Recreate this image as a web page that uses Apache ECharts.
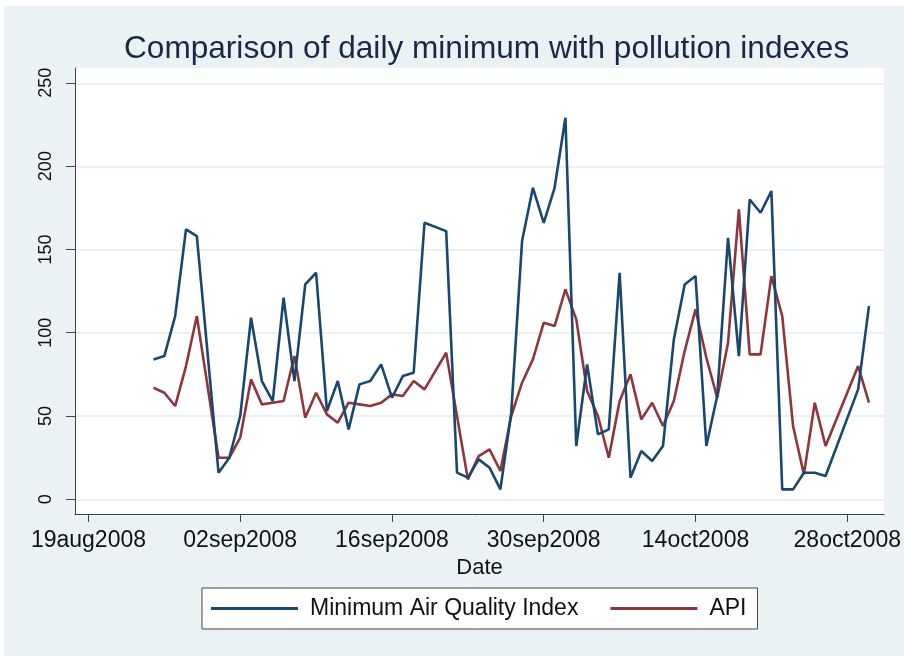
<!DOCTYPE html>
<html>
<head>
<meta charset="utf-8">
<script src="https://cdn.jsdelivr.net/npm/echarts@6/dist/echarts.min.js"></script>
<style>
  body { margin: 0; background: #fff; }
  #chart {
    width: 904px;
    height: 656px;
    background: #eaf2f3;
    box-shadow: inset 4px 6px 0 #fff;
  }
</style>
</head>
<body>
<div id="chart"></div>
<script>
// daily readings, first day 25aug2008 (null = no reading that day)
const startDay = [2008, 7, 25];
const minAQI = [84, 86, 110, 162, 158, null, 16, 25, 50, 109, 71, 59, 121, 71, 129, 136, 53, 71,
  42, 69, 71, 81, 61, 74, 76, 166, null, 161, 16, 13, 24, 19, 6, 52, 155, 187, 166, 187, 229,
  32, 81, 39, 42, 136, 13, 29, 23, 32, 96, 129, 134, 32, 62, 157, 86, 180, 172, 185, 6, 6,
  16, 16, 14, null, null, 66, 116];
const api = [67, 64, 56, 80, 110, null, 25, 25, 37, 72, 57, 58, 59, 86, 49, 64, 51, 46,
  58, 57, 56, 58, 63, 62, 71, 66, null, 88, null, 12, 26, 30, 17, 50, 70, 84, 106, 104, 126,
  108, 65, 50, 25, 59, 75, 48, 58, 44, 59, 89, 114, 85, 61, 94, 174, 87, 87, 134, 110, 44,
  15, 58, 32, null, null, 80, 58];
const seriesNames = ['Minimum Air Quality Index', 'API'];
const xTickDates = ['2008-08-19', '2008-09-02', '2008-09-16', '2008-09-30', '2008-10-14', '2008-10-28'];
const yTicks = [0, 50, 100, 150, 200, 250];

const DAY = 86400000;
const months = ['jan', 'feb', 'mar', 'apr', 'may', 'jun', 'jul', 'aug', 'sep', 'oct', 'nov', 'dec'];
const t0 = Date.UTC(startDay[0], startDay[1], startDay[2]);
const dayTs = minAQI.map((v, i) => t0 + i * DAY);
const xTicks = xTickDates.map(d => Date.parse(d + 'T00:00:00Z'));

function stataDate(ts) {
  const d = new Date(ts);
  const dd = String(d.getUTCDate()).padStart(2, '0');
  return dd + months[d.getUTCMonth()] + d.getUTCFullYear();
}

const xMin = xTicks[0] - 1.24 * DAY;
const xMax = xTicks[0] + 73.4 * DAY;

const chart = echarts.init(document.getElementById('chart'));
chart.setOption({
  animation: false,
  textStyle: { fontFamily: 'Liberation Sans, Arial, sans-serif' },
  title: {
    text: 'Comparison of daily minimum with pollution indexes',
    left: 119,
    top: 28,
    textStyle: { fontSize: 31.6, fontWeight: 'normal', color: '#1a2848' }
  },
  legend: {
    data: seriesNames,
    left: 202,
    top: 588,
    icon: 'rect',
    itemWidth: 87,
    itemHeight: 3,
    itemGap: 32,
    padding: [9, 11, 9, 9],
    backgroundColor: '#fff',
    borderColor: '#444',
    borderWidth: 1,
    borderRadius: 0,
    textStyle: { fontSize: 23, color: '#111', padding: [0, 0, 0, 7] }
  },
  grid: [
    { left: 75, right: 19, top: 68, bottom: 142, show: true, backgroundColor: '#fff', borderWidth: 0 },
    { left: 75, right: 19, top: 83.3, bottom: 156.7 }
  ],
  xAxis: [
    {
      type: 'value',
      gridIndex: 0,
      min: xMin,
      max: xMax,
      name: 'Date',
      nameLocation: 'middle',
      nameGap: 39,
      nameTextStyle: { fontSize: 22, color: '#111' },
      axisLine: { show: true, onZero: false, lineStyle: { color: '#444', width: 1 } },
      axisTick: { show: true, length: 8, customValues: xTicks, lineStyle: { color: '#444' } },
      axisLabel: { customValues: xTicks, formatter: stataDate, fontSize: 23, color: '#111', margin: 15 },
      splitLine: { show: false }
    },
    { type: 'value', gridIndex: 1, min: xMin, max: xMax, show: false }
  ],
  yAxis: [
    {
      type: 'value',
      gridIndex: 0,
      min: -8.8,
      max: 258.9,
      axisLine: { show: true, onZero: false, lineStyle: { color: '#444', width: 1 } },
      axisTick: { show: true, length: 9, customValues: yTicks, lineStyle: { color: '#444' } },
      axisLabel: { customValues: yTicks, rotate: 90, fontSize: 18, color: '#111', margin: 20 },
      splitLine: { show: false }
    },
    {
      type: 'value',
      gridIndex: 1,
      min: 0,
      max: 250,
      interval: 50,
      axisLine: { show: false },
      axisTick: { show: false },
      axisLabel: { show: false },
      splitLine: { show: true, lineStyle: { color: '#eaf2f3', width: 2 } }
    }
  ],
  series: [
    {
      name: seriesNames[0],
      type: 'line',
      xAxisIndex: 0,
      yAxisIndex: 0,
      data: dayTs.map((t, i) => [t, minAQI[i]]),
      connectNulls: true,
      showSymbol: false,
      color: '#1a476f',
      lineStyle: { width: 2.6, color: '#1a476f' },
      z: 3
    },
    {
      name: seriesNames[1],
      type: 'line',
      xAxisIndex: 0,
      yAxisIndex: 0,
      data: dayTs.map((t, i) => [t, api[i]]),
      connectNulls: true,
      showSymbol: false,
      color: '#90353b',
      lineStyle: { width: 2.6, color: '#90353b' },
      z: 2
    }
  ]
});
</script>
</body>
</html>
